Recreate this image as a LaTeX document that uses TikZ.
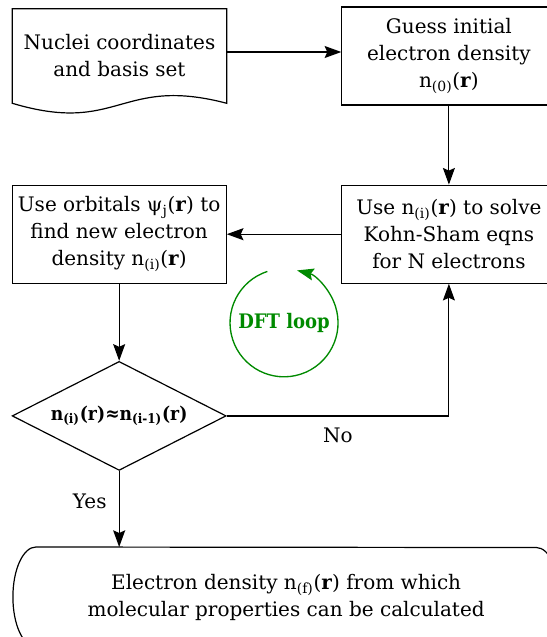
\documentclass[tikz,border=0pt]{standalone}
\usepackage{fontspec}
\setmainfont{DejaVu Serif}
\newfontfamily\condserif[FakeStretch=0.9]{DejaVu Serif}
\usetikzlibrary{arrows.meta,positioning,shapes.geometric,calc}
\definecolor{loopgreen}{HTML}{008A00}
\newcommand{\mainsize}{\fontsize{15}{20.3}\selectfont}
\tikzset{
 procbox/.style={rectangle, draw, line width=0.9pt, align=center,
   minimum width=160.5pt, minimum height=73.5pt, inner sep=2pt},
 docbox/.style={rectangle, align=center, minimum width=160.5pt,
   minimum height=70.5pt, inner sep=2pt},
 decbox/.style={diamond, draw, line width=0.9pt, aspect=2, inner sep=0pt,
   minimum width=160.5pt, minimum height=81.75pt,
   font=\condserif\fontsize{14.3}{16}\selectfont\bfseries},
 termbox/.style={rectangle, align=center,
   minimum width=409.5pt, minimum height=75pt},
 flow/.style={-{Stealth[length=12.5pt,width=9pt,inset=2pt]}, line width=0.9pt},
 looparrow/.style={-{Stealth[length=12.5pt,width=9pt,inset=2pt]},
   line width=1pt, draw=loopgreen},
}
\newcommand{\nsub}[1]{n\textsubscript{(#1)}(\textbf{r})}

\begin{document}
\begin{tikzpicture}[font=\mainsize]
\clip (-89.625pt,42pt) rectangle (320.625pt,-435.75pt);

% top row
\node[docbox] (doc) at (0,0) {Nuclei coordinates\\and basis set};
\draw[line width=0.9pt] (doc.south west) -- (doc.north west)
  -- (doc.north east) -- (doc.south east)
  .. controls ($(doc.south east)+(-80.25pt,21pt)$)
  and ($(doc.south west)+(80.25pt,-24pt)$) .. (doc.south west) -- cycle;

\node[procbox, right=85.9pt of doc] (guess) {Guess initial\\electron density\\\nsub{0}};

% loop row
\node[procbox, below=59.25pt of guess] (ks) {Use \nsub{i} to solve\\Kohn-Sham eqns\\for N electrons};
\node[procbox, left=85.9pt of ks] (orb) {Use orbitals ψ\textsubscript{j}(\textbf{r}) to\\find new electron\\density \nsub{i}};

\node[decbox, below=57.75pt of orb] (dec) {\nsub{i}≈n\textsubscript{(i-1)}(\textbf{r})};

% terminator with flat elliptic ends
\node[termbox, anchor=north west] (res) at ([xshift=1pt,yshift=-57pt]dec.south -| orb.west)
  {Electron density \nsub{f} from which\\molecular properties can be calculated};
\draw[line width=0.9pt] ([xshift=17.25pt]res.north west)
  arc[start angle=90, end angle=270, x radius=17.25pt, y radius=37.5pt]
  -- ([xshift=-17.25pt]res.south east)
  arc[start angle=-90, end angle=90, x radius=17.25pt, y radius=37.5pt] -- cycle;

% DFT loop marker
\coordinate (loopc) at ($($(orb.south east)!0.5!(ks.south west)$)+(0,-29.25pt)$);
\draw[looparrow] ([shift={(108:40.5pt)}]loopc) arc[start angle=108, end angle=436, radius=40.5pt];
\node[font=\condserif\mainsize\bfseries, text=loopgreen] (looplbl) at (loopc) {DFT loop};

% connectors
\draw[flow] ([yshift=3pt]doc.east) -- ([yshift=3pt]doc.east -| guess.west);
\draw[flow] (guess) -- (ks);
\draw[flow] (ks) -- (orb);
\draw[flow] (orb) -- (dec);
\draw[flow] (dec.east) -| node[pos=0.25, below=5pt] (nolbl) {No} (ks.south);
\draw[flow] (dec.south) -- node[pos=0.4, left=5.7pt] (yeslbl) {Yes} (dec.south |- res.north);

\end{tikzpicture}
\end{document}
